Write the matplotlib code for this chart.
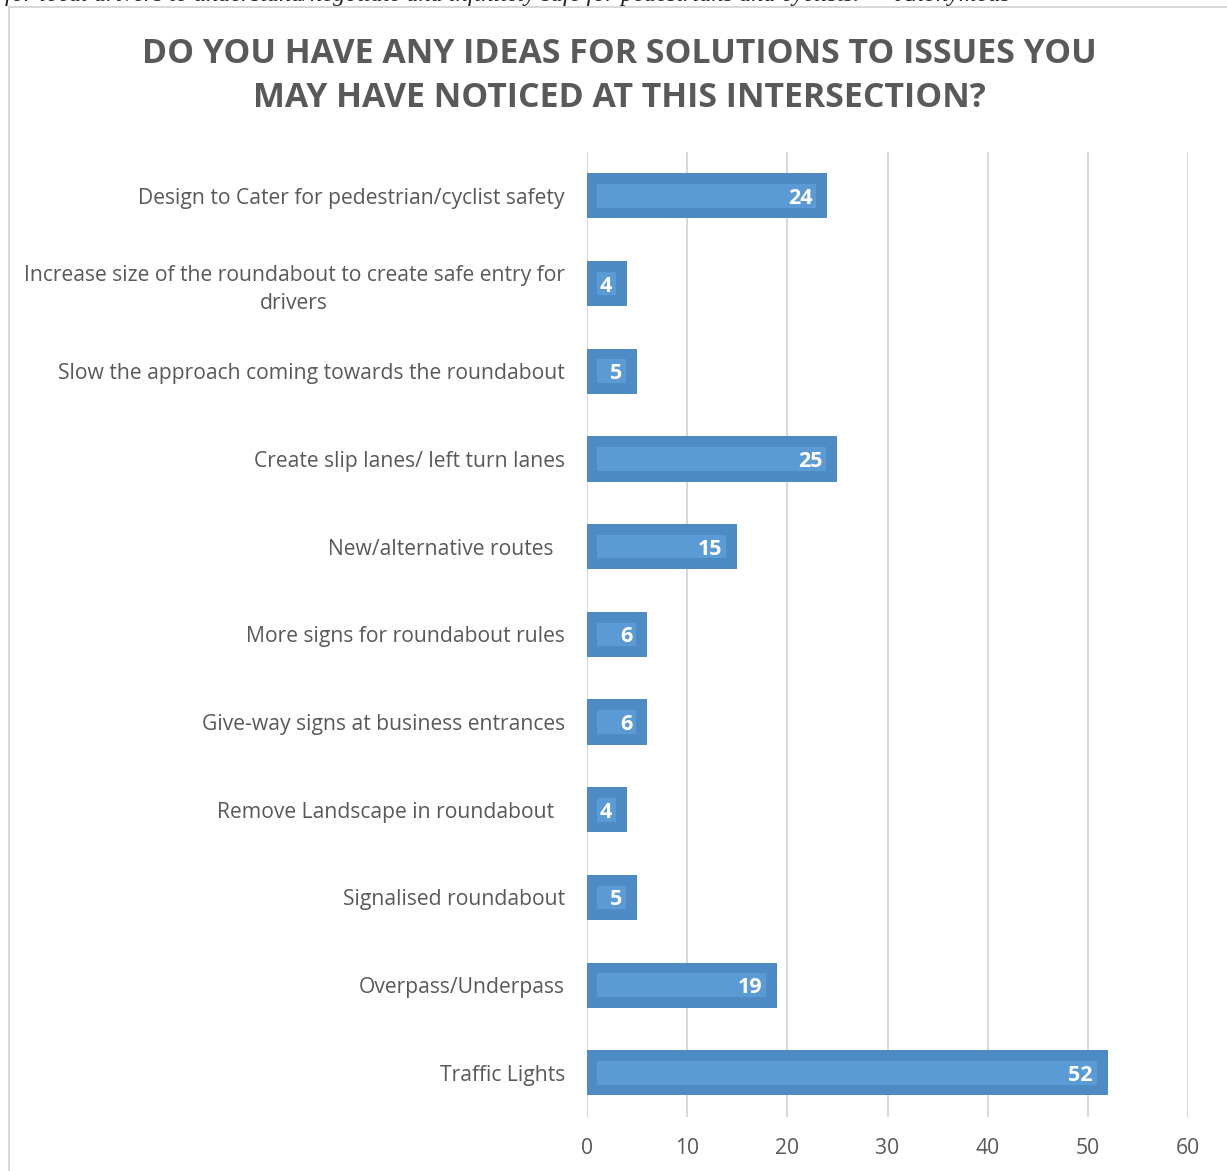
import matplotlib
matplotlib.use("Agg")
import matplotlib.pyplot as plt
from matplotlib.lines import Line2D

categories = [
    "Design to Cater for pedestrian/cyclist safety",
    "Increase size of the roundabout to create safe entry for\ndrivers",
    "Slow the approach coming towards the roundabout",
    "Create slip lanes/ left turn lanes",
    "New/alternative routes  ",
    "More signs for roundabout rules",
    "Give-way signs at business entrances",
    "Remove Landscape in roundabout  ",
    "Signalised roundabout",
    "Overpass/Underpass",
    "Traffic Lights",
]
values = [24, 4, 5, 25, 15, 6, 6, 4, 5, 19, 52]
xticks = [0, 10, 20, 30, 40, 50, 60]
title = "DO YOU HAVE ANY IDEAS FOR SOLUTIONS TO ISSUES YOU\nMAY HAVE NOTICED AT THIS INTERSECTION?"
quote = "for local drivers to understand/negotiate and infinitely safe for pedestrians and cyclists.\u201d \u2013 Anonymous"

plt.rcParams["font.family"] = ["Open Sans", "DejaVu Sans"]

W, H = 1227, 1171
fig = plt.figure(figsize=(W / 100, H / 100), dpi=100)
fig.patch.set_facecolor("white")

ax = fig.add_axes([587 / W, 1 - 1116.7 / H, (1188 - 587) / W, (1116.7 - 152) / H])

ypos = list(range(len(categories)))
outer = "#4E8AC4"
inner = "#5B9BD5"
ax.barh(ypos, values, height=0.515, color=outer, zorder=3)
ax.barh(ypos, [v - 2.1 for v in values], left=1.0, height=0.27, color=inner, zorder=4)

for y, v in zip(ypos, values):
    ax.annotate(str(v), xy=(v, y), xytext=(-10.8, 0), textcoords="offset points",
                ha="right", va="center_baseline", color="white", fontsize=15.5,
                fontweight="bold", zorder=5)

ax.set_xlim(0, 60)
ax.set_ylim(len(categories) - 0.5, -0.5)
ax.set_xticks(xticks)
ax.set_xticklabels([str(t) for t in xticks])
ax.set_yticks(ypos)
ax.set_yticklabels(categories, multialignment="center", linespacing=1.45)
ax.tick_params(axis="both", length=0, colors="#595959", labelsize=15.2)
ax.tick_params(axis="y", pad=16)
ax.tick_params(axis="x", pad=15)
ax.xaxis.grid(True, color="#D9D9D9", linewidth=1.5, zorder=0)
ax.set_axisbelow(True)
for s in ax.spines.values():
    s.set_visible(False)
ax.axvline(0, color="#D9D9D9", linewidth=1.5, zorder=1)

fig.text(619 / W, 1 - 76 / H, title, ha="center", va="center", fontsize=24.4,
         fontweight="bold", color="#595959", linespacing=1.4)

# chart border (partially visible)
fig.add_artist(Line2D([8.5 / W, 8.5 / W], [0, 1 - 7 / H], color="#D9D9D9", linewidth=1.5,
                      transform=fig.transFigure))
fig.add_artist(Line2D([8.5 / W, 1], [1 - 7 / H, 1 - 7 / H], color="#D9D9D9", linewidth=1.5,
                      transform=fig.transFigure))

# cut-off caption from the page above
fig.text(5 / W, 1 - 1 / H, quote, ha="left", va="baseline", fontsize=17.5,
         fontstyle="italic", family=["Liberation Serif", "DejaVu Serif"], color="#222222")

fig.savefig("out.png", dpi=100, facecolor="white")
